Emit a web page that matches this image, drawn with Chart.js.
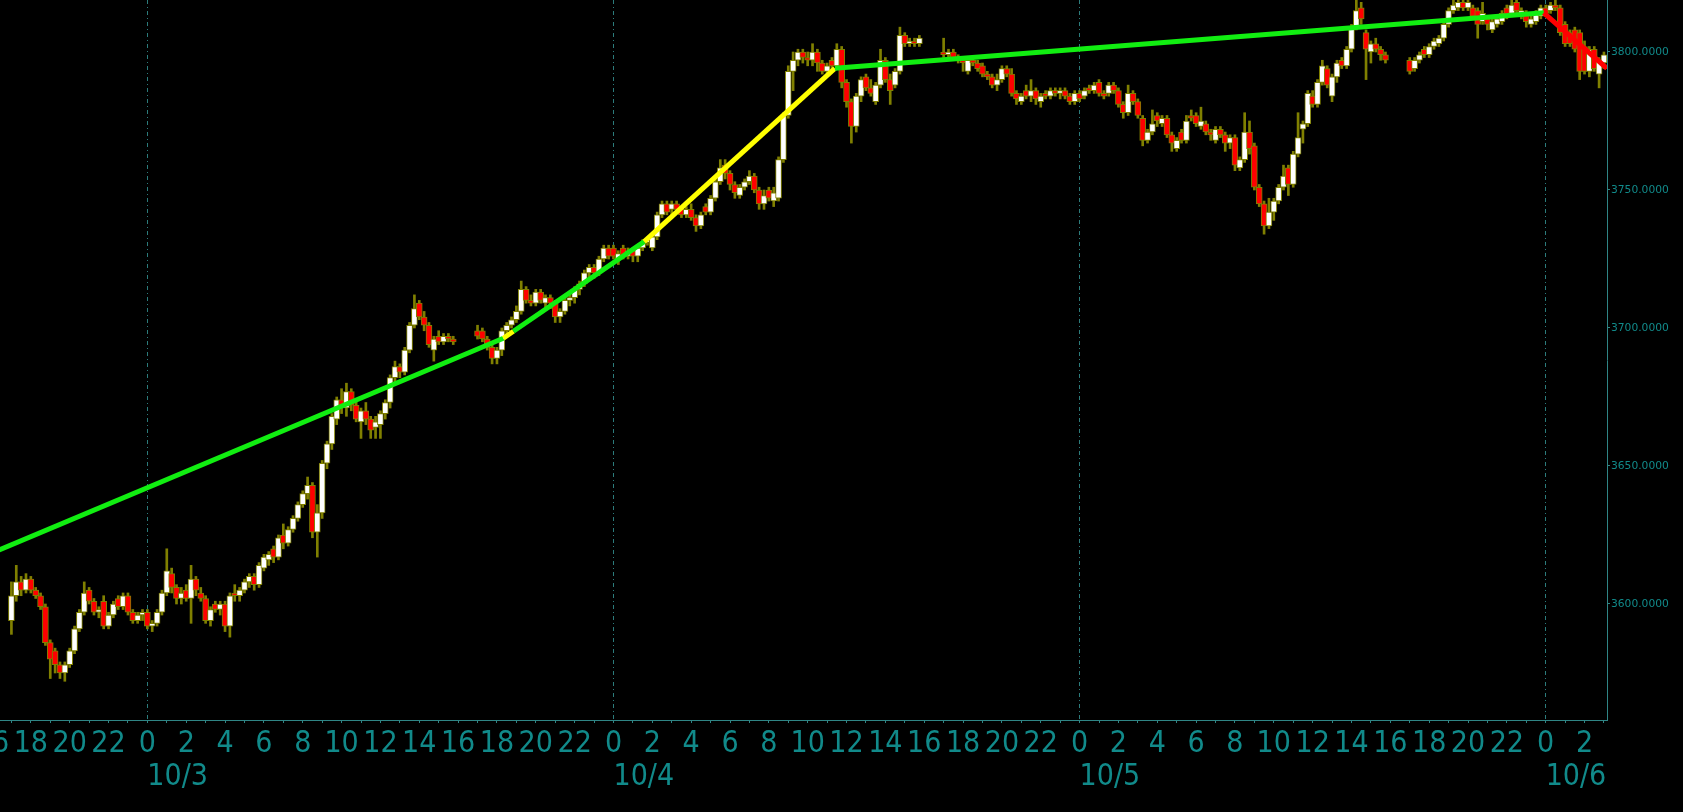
<!DOCTYPE html>
<html><head><meta charset="utf-8">
<script src="https://cdn.jsdelivr.net/npm/chart.js@4.4.0/dist/chart.umd.min.js"></script>
<style>html,body{margin:0;padding:0;background:#000;overflow:hidden;width:1683px;height:812px}canvas{display:block;margin-left:-8px}</style>
</head><body>
<canvas id="c" width="1691" height="812"></canvas>
<script>
// sessions: [start hour relative to 10/3 00:00, number of 15-minute bars]
const sessions = [[-7, 92], [17, 92], [41, 92], [65, 41]];

const opens = [
3594,3603,3608,3605, 3609,3605,3603,3599, 3586,3583,3578,3575, 3578,3583,3591,3597,
3605,3601,3597,3601, 3592,3596,3602,3599, 3603,3597,3594,3596, 3597,3592,3593,3597,
3604,3611,3606,3602, 3605,3602,3609,3604, 3602,3594,3600,3598, 3600,3592,3604,3603,
3605,3608,3610,3607, 3613,3616,3620,3617, 3625,3622,3627,3631, 3636,3640,3643,3626,
3633,3651,3658,3667, 3674,3671,3677,3672, 3666,3670,3667,3664, 3665,3669,3673,3682,
3686,3684,3692,3701, 3709,3704,3701,3692, 3697,3695,3697,3696,
3699,3699,3696,3693, 3689,3692,3699,3701, 3703,3706,3714,3710, 3709,3713,3709,3711,
3709,3704,3706,3710, 3711,3714,3716,3720, 3722,3720,3725,3729, 3729,3725,3729,3726,
3728,3726,3729,3731, 3729,3733,3741,3745, 3743,3745,3743,3741, 3743,3740,3737,3744,
3742,3747,3753,3759, 3756,3752,3748,3751, 3753,3755,3750,3745, 3750,3746,3747,3761,
3777,3793,3797,3800, 3798,3797,3800,3796, 3793,3797,3795,3801, 3789,3782,3773,3784,
3791,3787,3782,3788, 3797,3790,3788,3793, 3806,3803,3804,3803,
3800,3799,3800,3798, 3797,3793,3797,3796, 3795,3792,3791,3788, 3790,3794,3792,3785,
3782,3786,3784,3786, 3782,3785,3784,3786, 3785,3786,3784,3782, 3785,3784,3787,3786,
3789,3785,3785,3788, 3786,3781,3778,3785, 3782,3776,3768,3771, 3777,3774,3776,3770,
3765,3771,3768,3777, 3777,3773,3774,3771, 3768,3772,3770,3767, 3769,3758,3761,3771,
3766,3751,3745,3737, 3742,3746,3751,3758, 3752,3763,3772,3774, 3784,3781,3789,3794,
3784,3791,3797,3795, 3801,3809,3816,3807, 3800,3803,3801,3799,
3797,3794,3797,3801, 3799,3802,3803,3805, 3810,3815,3816,3818, 3816,3816,3815,3811,
3812,3808,3810,3811, 3816,3814,3818,3813, 3814,3810,3811,3813, 3816,3815,3817,3816,
3810,3807,3808,3807, 3802,3793,3801,3792, 3796
];
const highs = [
3608,3614,3610,3611, 3610,3606,3604,3600, 3587,3584,3579,3579, 3584,3592,3598,3608,
3606,3602,3599,3603, 3597,3601,3603,3604, 3604,3598,3597,3598, 3598,3594,3598,3605,
3620,3613,3607,3606, 3607,3614,3610,3606, 3603,3599,3601,3601, 3601,3604,3607,3606,
3609,3611,3611,3615, 3618,3619,3621,3625, 3629,3628,3632,3637, 3641,3646,3644,3636,
3652,3659,3669,3675, 3678,3680,3678,3674, 3671,3673,3668,3668, 3670,3674,3683,3688,
3687,3693,3702,3712, 3710,3706,3702,3697, 3699,3698,3698,3697,
3701,3700,3697,3694, 3693,3700,3702,3704, 3708,3717,3715,3712, 3714,3714,3712,3712,
3710,3707,3711,3712, 3715,3717,3721,3723, 3723,3726,3730,3730, 3730,3728,3730,3729,
3729,3730,3732,3733, 3734,3742,3746,3746, 3746,3746,3744,3744, 3745,3741,3742,3745,
3748,3754,3761,3761, 3757,3753,3752,3754, 3757,3756,3751,3750, 3751,3751,3762,3778,
3795,3800,3801,3801, 3800,3803,3801,3797, 3796,3798,3803,3802, 3790,3783,3785,3791,
3792,3790,3789,3801, 3798,3792,3794,3809, 3807,3805,3805,3806,
3805,3801,3801,3799, 3798,3798,3798,3797, 3796,3793,3792,3792, 3795,3795,3794,3786,
3785,3788,3790,3787, 3785,3786,3787,3787, 3787,3787,3785,3786, 3786,3787,3788,3789,
3790,3786,3789,3789, 3787,3782,3788,3786, 3783,3777,3772,3779, 3778,3777,3777,3771,
3769,3772,3777,3779, 3778,3780,3775,3772, 3773,3773,3771,3770, 3770,3762,3778,3775,
3767,3752,3746,3747, 3747,3752,3759,3759, 3764,3778,3775,3786, 3786,3790,3797,3795,
3792,3797,3798,3802, 3810,3819,3818,3808, 3804,3805,3802,3800,
3798,3798,3800,3802, 3803,3805,3806,3811, 3816,3819,3819,3819, 3819,3817,3816,3818,
3813,3812,3813,3815, 3817,3819,3819,3816, 3815,3813,3815,3817, 3817,3818,3819,3817,
3811,3808,3809,3808, 3804,3802,3802,3798, 3800
];
const lows = [
3589,3601,3603,3604, 3604,3602,3598,3585, 3573,3575,3573,3572, 3577,3582,3590,3596,
3600,3596,3595,3591, 3591,3595,3598,3598, 3596,3593,3593,3594, 3591,3590,3592,3596,
3603,3604,3600,3600, 3601,3593,3603,3601, 3593,3592,3597,3596, 3590,3588,3601,3601,
3604,3606,3605,3606, 3612,3614,3615,3616, 3620,3621,3626,3630, 3635,3638,3624,3617,
3631,3649,3656,3665, 3669,3668,3670,3666, 3660,3665,3660,3660, 3660,3667,3671,3680,
3682,3683,3691,3700, 3703,3699,3693,3688, 3694,3694,3695,3694,
3696,3695,3692,3687, 3687,3690,3697,3700, 3702,3705,3709,3708, 3708,3709,3707,3707,
3702,3702,3705,3708, 3709,3712,3715,3718, 3718,3719,3724,3725, 3725,3723,3725,3725,
3724,3724,3728,3730, 3728,3732,3740,3741, 3741,3742,3740,3740, 3739,3735,3736,3741,
3741,3746,3752,3754, 3750,3747,3747,3750, 3752,3749,3743,3743, 3746,3744,3746,3760,
3776,3786,3795,3796, 3795,3795,3793,3792, 3792,3794,3794,3787, 3780,3767,3771,3782,
3786,3784,3781,3787, 3789,3781,3787,3792, 3802,3802,3802,3802,
3798,3797,3797,3796, 3793,3792,3795,3793, 3791,3790,3787,3786, 3789,3791,3784,3781,
3781,3783,3782,3781, 3780,3783,3783,3784, 3783,3783,3781,3781, 3782,3783,3785,3785,
3784,3783,3784,3785, 3780,3776,3777,3781, 3776,3766,3767,3770, 3773,3773,3769,3764,
3764,3767,3767,3775, 3773,3772,3770,3768, 3767,3769,3764,3765, 3757,3757,3760,3763,
3750,3744,3734,3736, 3739,3745,3750,3748, 3751,3762,3767,3773, 3780,3780,3788,3787,
3782,3789,3794,3794, 3800,3808,3810,3790, 3796,3800,3797,3796,
3792,3793,3796,3798, 3798,3801,3802,3804, 3809,3814,3815,3815, 3815,3812,3805,3810,
3808,3807,3809,3810, 3812,3813,3814,3812, 3809,3809,3810,3812, 3813,3814,3815,3806,
3802,3802,3800,3790, 3792,3791,3793,3787, 3794
];
const closes = [
3603,3608,3605,3609, 3605,3603,3599,3586, 3580,3578,3575,3578, 3583,3591,3597,3604,
3601,3597,3598,3592, 3596,3600,3599,3603, 3597,3594,3596,3597, 3592,3593,3597,3604,
3612,3606,3602,3604, 3602,3609,3605,3602, 3594,3598,3598,3600, 3592,3603,3603,3605,
3608,3610,3607,3614, 3617,3618,3617,3624, 3622,3627,3631,3636, 3640,3643,3626,3633,
3651,3658,3668,3674, 3671,3677,3672,3667, 3670,3667,3663,3666, 3669,3673,3682,3686,
3684,3692,3701,3707, 3704,3701,3694,3696, 3695,3697,3696,3695,
3697,3696,3693,3689, 3692,3699,3701,3703, 3706,3714,3710,3709, 3713,3710,3711,3709,
3704,3706,3710,3711, 3714,3716,3720,3722, 3720,3725,3729,3726, 3726,3727,3726,3728,
3726,3729,3731,3732, 3733,3741,3745,3742, 3745,3743,3741,3743, 3740,3737,3741,3742,
3747,3753,3758,3756, 3752,3749,3751,3753, 3755,3750,3745,3748, 3747,3749,3761,3777,
3793,3797,3800,3798, 3797,3800,3796,3793, 3795,3795,3801,3789, 3782,3773,3784,3790,
3787,3785,3788,3797, 3790,3786,3793,3806, 3803,3804,3803,3805,
3799,3800,3798,3797, 3796,3797,3796,3794, 3792,3791,3788,3790, 3794,3792,3785,3783,
3784,3784,3786,3783, 3784,3784,3786,3785, 3786,3784,3782,3785, 3783,3786,3786,3788,
3785,3784,3788,3786, 3781,3778,3785,3782, 3777,3768,3771,3774, 3775,3776,3770,3767,
3768,3768,3775,3776, 3774,3775,3771,3770, 3772,3770,3767,3769, 3759,3761,3771,3765,
3751,3745,3737,3742, 3746,3751,3755,3752, 3763,3769,3774,3785, 3781,3789,3795,3788,
3791,3796,3795,3801, 3809,3815,3812,3801, 3803,3801,3799,3797,
3793,3797,3799,3799, 3802,3804,3805,3810, 3815,3817,3818,3816, 3818,3813,3810,3814,
3810,3811,3812,3814, 3813,3817,3815,3815, 3811,3812,3814,3816, 3814,3817,3816,3807,
3803,3803,3801,3793, 3793,3801,3794,3797, 3799
];

// trend overlay (hours relative to 10/3 00:00, price) and segment colours
const trendX = [-8, 18.33, 18.85, 25.58, 35.4, 71.9, 75.15];
const trendY = [3618.5, 3696.3, 3698.8, 3731.3, 3794.1, 3814.2, 3794.1];
const trendColors = ['#11ee11', '#ffff00', '#11ee11', '#ffff00', '#11ee11', '#ff0000'];

const dayLabels = {0: '10/3', 24: '10/4', 48: '10/5', 72: '10/6'};

const times = [];
sessions.forEach(([s, n]) => { for (let i = 0; i < n; i++) times.push(s + i * 0.25); });

const TEXT = '#118a8a';
const AXIS = '#2f8585';
const GRID = '#2c7c7c';
const OLIVE = '#808000';
const bigFont = {family: '"Liberation Sans Narrow", "DejaVu Sans Condensed", "Liberation Sans", sans-serif', size: 30};

function fixPad(s) {
  s.paddingLeft = 0;
  s.paddingRight = 0;
  s.paddingTop = 0;
  s.paddingBottom = 0;
}

new Chart(document.getElementById('c'), {
  type: 'bar',
  data: {
    datasets: [
      {
        type: 'line',
        data: trendX.map((x, i) => ({x: x, y: trendY[i]})),
        borderWidth: 5,
        borderColor: trendColors[0],
        segment: {borderColor: ctx => trendColors[ctx.p0DataIndex]},
        pointRadius: 0,
        tension: 0,
        order: 1
      },
      {
        data: times.map((t, i) => ({x: t, y: [opens[i], closes[i]]})),
        backgroundColor: times.map((t, i) => closes[i] >= opens[i] ? '#ffffff' : '#ff0000'),
        borderColor: OLIVE,
        borderWidth: 1,
        borderSkipped: false,
        barThickness: 6,
        grouped: false,
        order: 2
      },
      {
        data: times.map((t, i) => ({x: t, y: [lows[i], highs[i]]})),
        backgroundColor: OLIVE,
        borderWidth: 0,
        barThickness: 2,
        grouped: false,
        order: 3
      }
    ]
  },
  options: {
    responsive: false,
    animation: false,
    devicePixelRatio: 1,
    layout: {padding: 0},
    plugins: {legend: {display: false}, tooltip: {enabled: false}},
    scales: {
      x: {
        type: 'linear', position: 'bottom', min: -8, max: 75.157, offset: false, weight: 0,
        ticks: {
          stepSize: 1, autoSkip: false, maxRotation: 0, minRotation: 0, includeBounds: false,
          padding: 3, color: TEXT, font: bigFont,
          callback: v => { const h = ((v % 24) + 24) % 24; return h % 2 === 0 ? String(h) : ''; }
        },
        grid: {offset: false, drawOnChartArea: false, drawTicks: true, tickLength: 3, color: AXIS, tickColor: AXIS},
        border: {display: true, color: AXIS, width: 1},
        afterFit: s => { s.height = 37; fixPad(s); }
      },
      x2: {
        type: 'linear', position: 'bottom', min: -8, max: 75.157, offset: false, weight: 1,
        ticks: {
          stepSize: 24, autoSkip: false, maxRotation: 0, minRotation: 0, includeBounds: false,
          align: 'start', padding: 2, color: TEXT, font: bigFont,
          callback: v => dayLabels[v] !== undefined ? dayLabels[v] : ''
        },
        grid: {offset: false, drawOnChartArea: true, drawTicks: false, color: GRID, lineWidth: 1, borderDash: [4, 3, 1, 3]},
        border: {display: false, dash: [4, 3, 1, 3]},
        afterFit: s => { s.height = 55; fixPad(s); }
      },
      y: {
        position: 'right', min: 3557.97, max: 3818.84,
        ticks: {
          stepSize: 50, includeBounds: false, padding: 1, color: TEXT,
          font: {family: '"DejaVu Sans", sans-serif', size: 10.7},
          callback: v => Number(v).toFixed(4)
        },
        grid: {drawOnChartArea: false, tickLength: 3, color: AXIS, tickColor: AXIS},
        border: {display: true, color: AXIS, width: 1},
        afterFit: s => { s.width = 76; fixPad(s); }
      }
    }
  }
});
</script>
</body></html>
